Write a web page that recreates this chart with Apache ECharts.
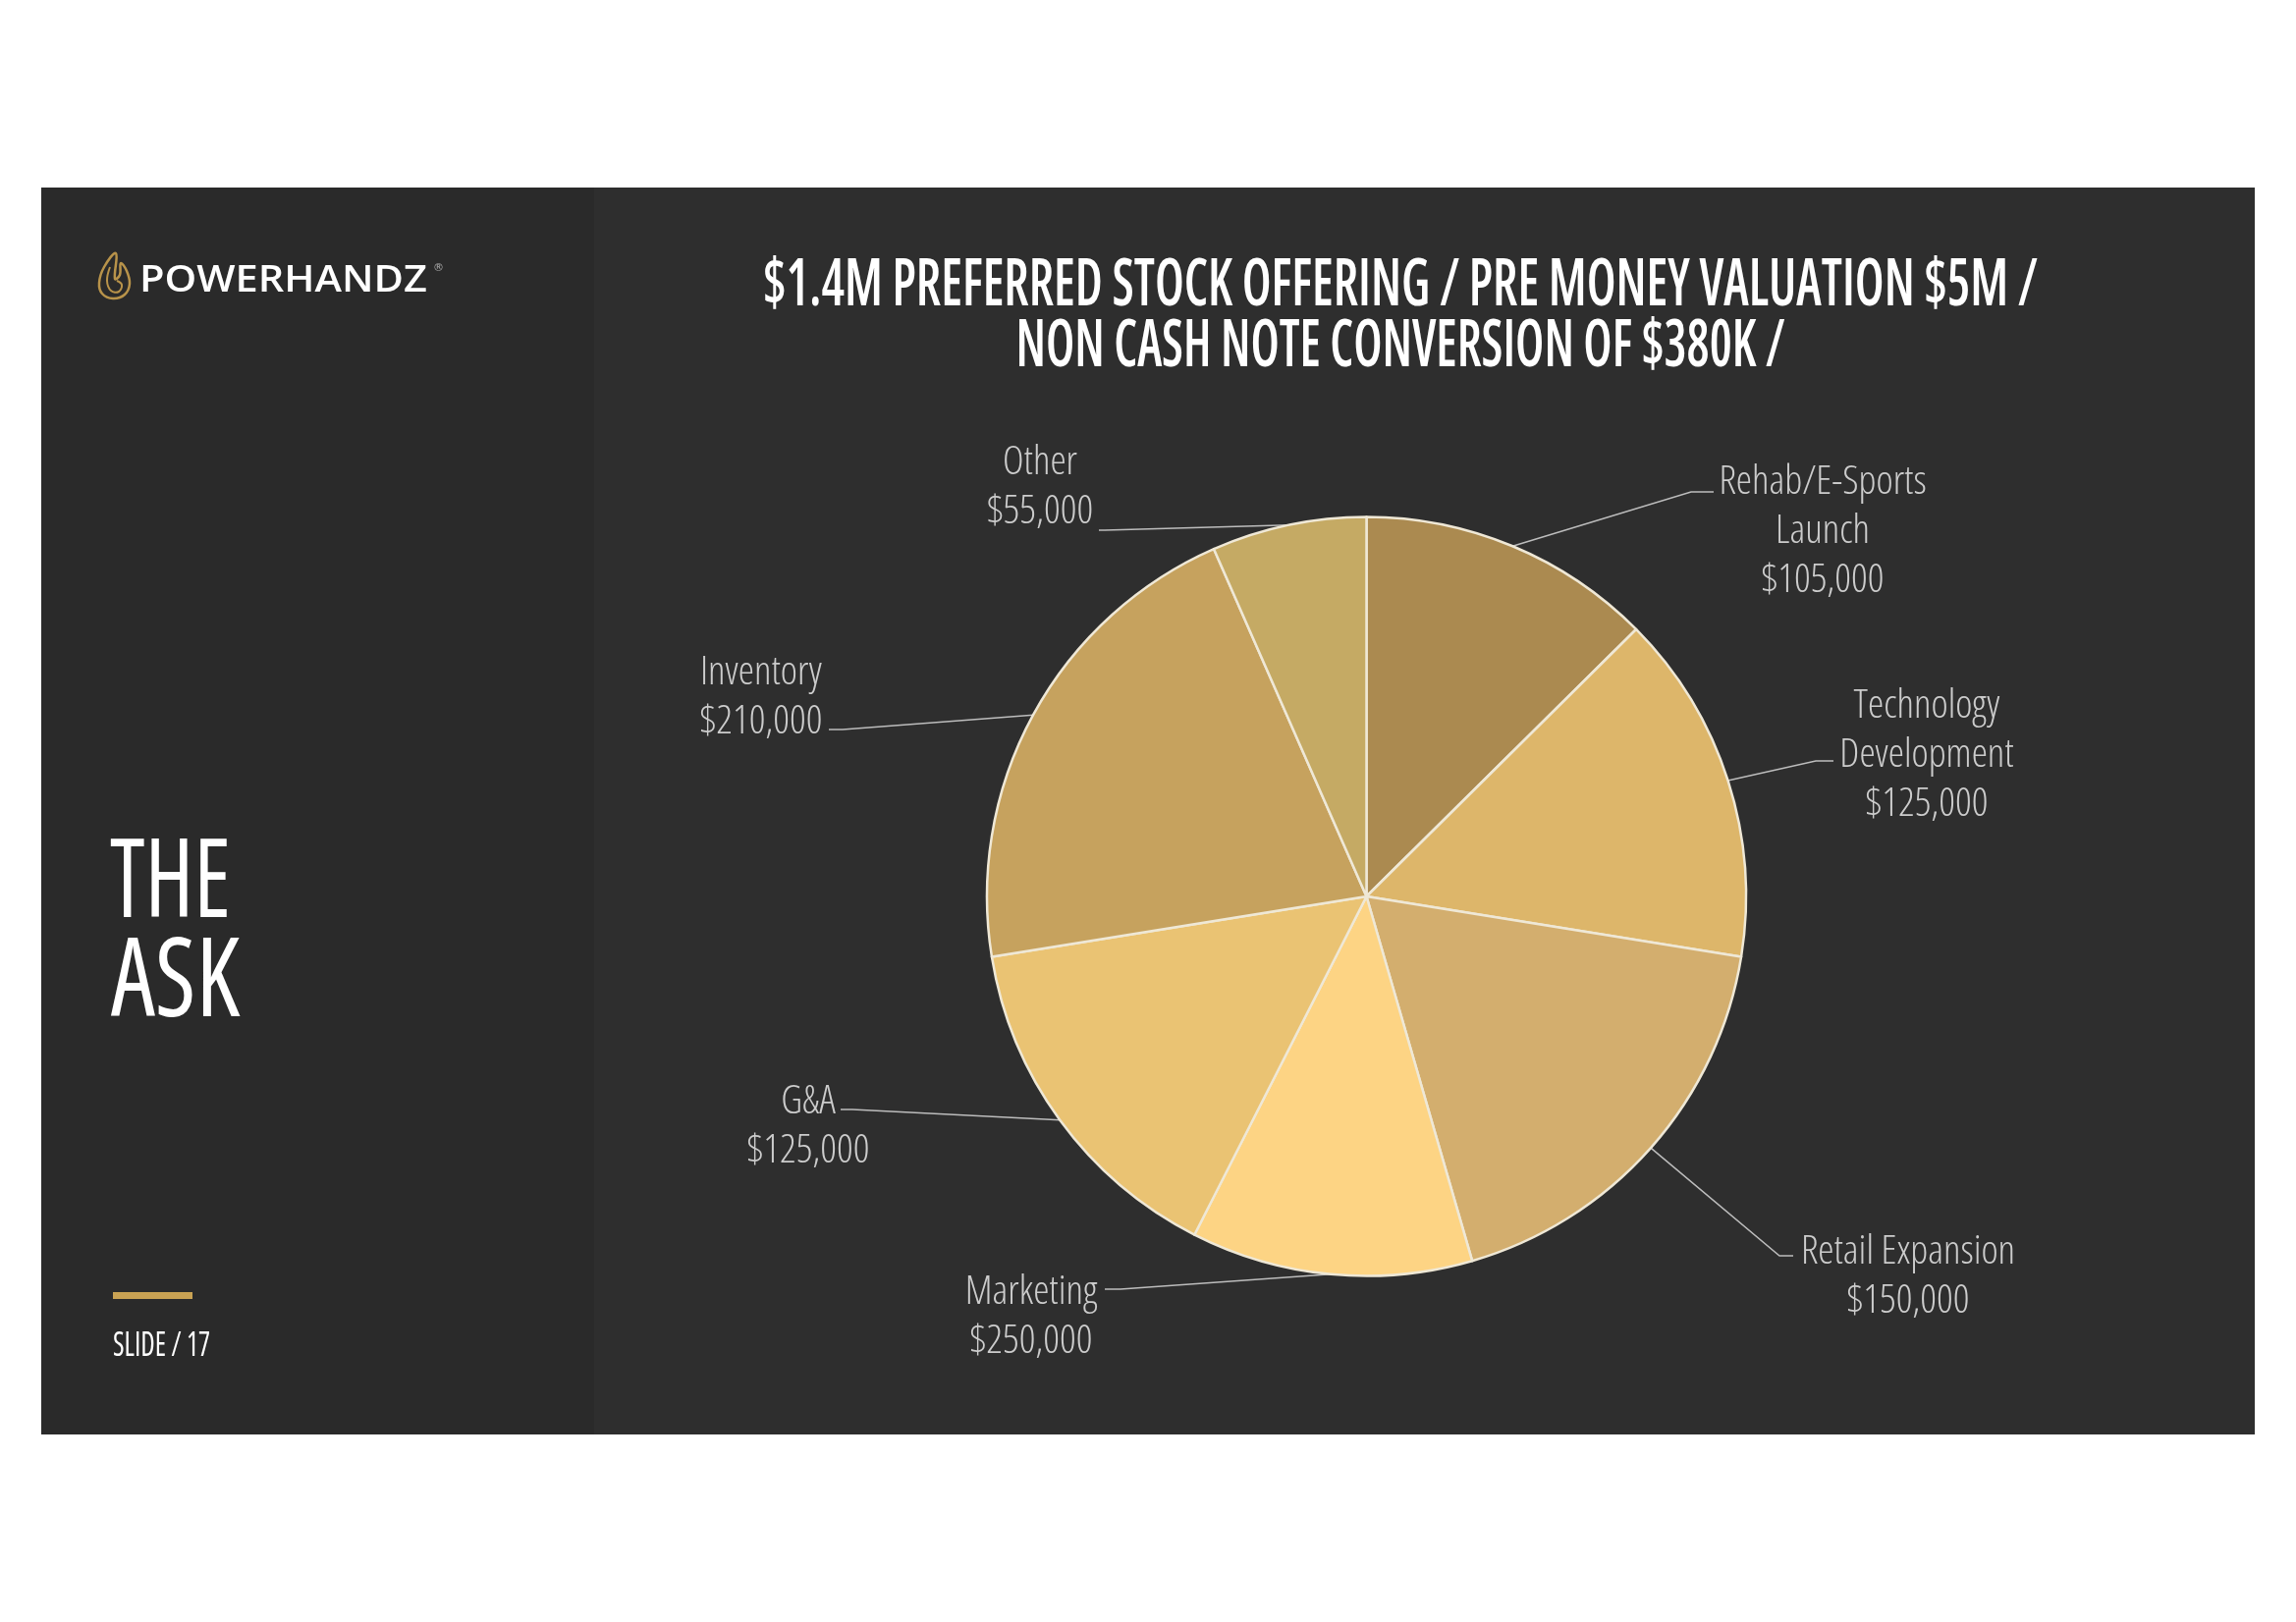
<!DOCTYPE html>
<html>
<head>
<meta charset="utf-8">
<script src="https://cdn.jsdelivr.net/npm/echarts@6/dist/echarts.min.js"></script>
<style>
  html, body { margin: 0; padding: 0; background: #fff; }
  #chart { width: 2338px; height: 1652px; }
</style>
</head>
<body>
<div id="chart"></div>
<script>
// slice data (slice sizes follow the drawn angles, labels follow the printed amounts)
const categories = ['Rehab/E-Sports\nLaunch', 'Technology\nDevelopment', 'Retail Expansion', 'Marketing', 'G&A', 'Inventory', 'Other'];
const sliceValues = [105000, 125000, 150000, 100000, 125000, 175000, 55000];
const labelAmounts = ['$105,000', '$125,000', '$150,000', '$250,000', '$125,000', '$210,000', '$55,000'];
const sliceColors = ['#ab8a50', '#ddb66a', '#d3ae6e', '#fdd484', '#eac373', '#c6a25e', '#c5aa64'];

const titleLines = ['$1.4M PREFERRED STOCK OFFERING / PRE MONEY VALUATION $5M /', 'NON CASH NOTE CONVERSION OF $380K /'];

// label placement (px): text centre x, first line centre y, then guide line points after the slice edge
const labelSpots = [
  [1856, 491, [[1722, 501], [1745, 501]]],
  [1962, 719, [[1849, 775], [1867, 775]]],
  [1943, 1275, [[1812, 1279], [1826, 1279]]],
  [1050, 1316, [[1141, 1313], [1125, 1313]]],
  [823, 1122, [[868, 1130], [856, 1130]]],
  [775, 685, [[858, 743], [844, 743]]],
  [1059, 471, [[1125, 540], [1119, 540]]]
];

const mctx = document.createElement('canvas').getContext('2d');
function fitScale(text, font, target) {
  mctx.font = font;
  return target / mctx.measureText(text).width;
}

const chart = echarts.init(document.getElementById('chart'));

// text drawn condensed to the width it has on the slide; y is the centre of the capitals
function slideText(text, x, y, size, weight, targetW, align, stretch) {
  const family = "'Open Sans'";
  const st = stretch || 'condensed';
  return {
    type: 'text',
    x: x, y: y,
    scaleX: fitScale(text, st + ' ' + weight + ' ' + size + 'px ' + family, targetW),
    style: {
      text: text, fill: '#ffffff',
      fontSize: size, fontFamily: family, fontWeight: weight, fontStyle: st,
      align: align || 'left', verticalAlign: 'middle'
    },
    z: 5
  };
}

const gold = '#b8934a';
const option = {
  backgroundColor: '#ffffff',
  animation: false,
  graphic: [
    { type: 'rect', shape: { x: 42, y: 191, width: 2254, height: 1270 }, style: { fill: '#2e2e2e' }, z: 0 },
    { type: 'rect', shape: { x: 42, y: 191, width: 563, height: 1270 }, style: { fill: '#2a2a2a' }, z: 1 },
    // flame mark
    {
      type: 'polygon', z: 5,
      shape: { points: [[118, 258], [106, 272], [101, 288], [104, 299], [115, 304], [127, 300], [132, 289], [129, 276], [123, 268], [122, 280], [117, 284]], smooth: 0.4 },
      style: { fill: 'none', stroke: gold, lineWidth: 2.5 }
    },
    {
      type: 'polyline', z: 5,
      shape: { points: [[112, 272], [109, 286], [113, 296], [121, 297], [124, 290], [119, 286]], smooth: 0.4 },
      style: { fill: 'none', stroke: gold, lineWidth: 2 }
    },
    slideText('POWERHANDZ', 142, 286, 38, 600, 293, 'left', 'normal'),
    { type: 'text', x: 441, y: 268, z: 5, style: { text: '®', fill: '#aaaaaa', fontSize: 11, fontFamily: 'DejaVu Sans' } },
    slideText(titleLines[0], 1426, 292, 67, 600, 1298, 'center'),
    slideText(titleLines[1], 1426, 354, 67, 600, 783, 'center'),
    slideText('THE', 112, 902, 112, 400, 123, 'left'),
    slideText('ASK', 113, 1003, 112, 400, 131, 'left'),
    { type: 'rect', shape: { x: 115, y: 1316, width: 81, height: 7 }, style: { fill: '#c9a253' }, z: 5 },
    slideText('SLIDE / 17', 115, 1371, 35, 400, 99, 'left')
  ],
  series: [{
    type: 'pie',
    center: [1391.5, 913],
    radius: 386.5,
    startAngle: 90,
    clockwise: true,
    avoidLabelOverlap: false,
    data: categories.map((name, i) => ({ name: name, value: sliceValues[i], itemStyle: { color: sliceColors[i] } })),
    itemStyle: { borderColor: '#efe8d6', borderWidth: 2.5 },
    label: {
      show: true,
      position: 'outside',
      color: '#cccccc',
      fontSize: 41,
      lineHeight: 50,
      fontWeight: 300,
      fontStyle: 'condensed',
      fontFamily: "'Open Sans'",
      formatter: p => categories[p.dataIndex] + '\n' + labelAmounts[p.dataIndex]
    },
    labelLine: { show: true, lineStyle: { color: '#bdbdbd', width: 1.5 } },
    labelLayout: function (params) {
      const s = labelSpots[params.dataIndex];
      const start = params.labelLinePoints ? params.labelLinePoints[0] : s[2][0];
      return {
        x: s[0], y: s[1] - 25,
        align: 'center', verticalAlign: 'top',
        labelLinePoints: [start, s[2][0], s[2][1]]
      };
    }
  }]
};

chart.setOption(option);
</script>
</body>
</html>
